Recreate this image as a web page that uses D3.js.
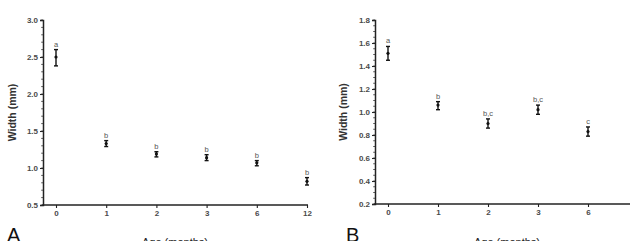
<!DOCTYPE html>
<html>
<head>
<meta charset="utf-8">
<script src="https://cdn.jsdelivr.net/npm/d3@7"></script>
<style>
  body { margin: 0; background: #fff; }
  svg { display: block; font-family: "Liberation Sans", Arial, sans-serif; }
</style>
</head>
<body>
<div id="chart"></div>
<script>
var W = 630, H = 241;

// panel A
var ageA = ['0', '1', '2', '3', '6', '12'];
var meanA = [2.50, 1.33, 1.19, 1.14, 1.07, 0.82];
var lowA = [2.38, 1.29, 1.15, 1.10, 1.03, 0.77];
var highA = [2.60, 1.37, 1.22, 1.18, 1.10, 0.87];
var letterA = ['a', 'b', 'b', 'b', 'b', 'b'];
var yTicksA = [0.5, 1.0, 1.5, 2.0, 2.5, 3.0];

// panel B
var ageB = ['0', '1', '2', '3', '6'];
var meanB = [1.51, 1.06, 0.90, 1.02, 0.83];
var lowB = [1.45, 1.02, 0.86, 0.98, 0.79];
var highB = [1.57, 1.09, 0.94, 1.06, 0.87];
var letterB = ['a', 'b', 'b,c', 'b,c', 'c'];
var yTicksB = [0.2, 0.4, 0.6, 0.8, 1.0, 1.2, 1.4, 1.6, 1.8];

var svg = d3.select('#chart').append('svg')
    .attr('width', W)
    .attr('height', H);

function drawPanel(p) {
    var g = svg.append('g');

    var x = d3.scalePoint()
        .domain(p.ages)
        .range([p.x0, p.x1]);
    var y = d3.scaleLinear()
        .domain(p.yDomain)
        .range([p.yBottom, p.yTop]);

    // y axis, major ticks
    var yAxis = g.append('g')
        .attr('transform', 'translate(' + p.axisX + ',0)')
        .call(d3.axisLeft(y).tickValues(p.yTicks).tickFormat(d3.format('.1f')).tickSize(3).tickPadding(2));
    yAxis.select('.domain').attr('stroke', '#222').attr('stroke-width', 1.5);
    yAxis.selectAll('.tick line').attr('stroke', '#222').attr('stroke-width', 1.1);
    yAxis.selectAll('.tick text')
        .attr('fill', '#4a4a4a')
        .style('font-size', '8px')
        .style('font-weight', 'bold');

    // minor ticks
    var minor = d3.range(p.yDomain[0], p.yDomain[1] + 1e-9, p.minorStep);
    g.append('g').selectAll('line')
        .data(minor)
        .enter().append('line')
        .attr('x1', p.axisX - 1.8)
        .attr('x2', p.axisX)
        .attr('y1', function(d) { return y(d); })
        .attr('y2', function(d) { return y(d); })
        .attr('stroke', '#333')
        .attr('stroke-width', 0.8);

    // x axis
    var xAxis = g.append('g')
        .attr('transform', 'translate(0,' + p.yBottom + ')')
        .call(d3.axisBottom(x).tickSize(3).tickPadding(2));
    xAxis.select('.domain').remove();
    xAxis.selectAll('.tick line').attr('stroke', '#222').attr('stroke-width', 1.1);
    xAxis.selectAll('.tick text')
        .attr('fill', '#4a4a4a')
        .style('font-size', '8px')
        .style('font-weight', 'bold');
    g.append('line')
        .attr('x1', p.axisX - 0.75)
        .attr('x2', p.xEnd)
        .attr('y1', p.yBottom)
        .attr('y2', p.yBottom)
        .attr('stroke', '#222')
        .attr('stroke-width', 1.7);

    var rows = p.ages.map(function(a, i) {
        return {age: a, mean: p.mean[i], low: p.low[i], high: p.high[i], letter: p.letter[i]};
    });

    var pts = g.selectAll('.pt')
        .data(rows)
        .enter().append('g')
        .attr('class', 'pt');

    pts.append('line')
        .attr('x1', function(d) { return x(d.age); })
        .attr('x2', function(d) { return x(d.age); })
        .attr('y1', function(d) { return y(d.low); })
        .attr('y2', function(d) { return y(d.high); })
        .attr('stroke', '#111')
        .attr('stroke-width', 1.4);
    pts.append('line')
        .attr('x1', function(d) { return x(d.age) - 2; })
        .attr('x2', function(d) { return x(d.age) + 2; })
        .attr('y1', function(d) { return y(d.high); })
        .attr('y2', function(d) { return y(d.high); })
        .attr('stroke', '#111')
        .attr('stroke-width', 1.4);
    pts.append('line')
        .attr('x1', function(d) { return x(d.age) - 2; })
        .attr('x2', function(d) { return x(d.age) + 2; })
        .attr('y1', function(d) { return y(d.low); })
        .attr('y2', function(d) { return y(d.low); })
        .attr('stroke', '#111')
        .attr('stroke-width', 1.4);
    pts.append('circle')
        .attr('cx', function(d) { return x(d.age); })
        .attr('cy', function(d) { return y(d.mean); })
        .attr('r', 1.6)
        .attr('fill', '#111');
    pts.append('text')
        .attr('x', function(d) { return x(d.age); })
        .attr('y', function(d) { return y(d.high) - 3; })
        .attr('text-anchor', 'middle')
        .attr('fill', '#555')
        .style('font-size', '7.5px')
        .text(function(d) { return d.letter; });

    // axis titles
    g.append('text')
        .attr('transform', 'translate(' + p.yLabelX + ',' + ((p.yTop + p.yBottom) / 2) + ') rotate(-90)')
        .attr('text-anchor', 'middle')
        .attr('fill', '#333')
        .style('font-size', '10.5px')
        .style('font-weight', 'bold')
        .text('Width (mm)');
    g.append('text')
        .attr('x', p.xLabelX)
        .attr('y', 246)
        .attr('text-anchor', 'middle')
        .attr('fill', '#222')
        .style('font-size', '11px')
        .text('Age (months)');
    g.append('text')
        .attr('x', p.letterX)
        .attr('y', 242)
        .attr('fill', '#111')
        .style('font-size', '20px')
        .text(p.panel);
}

drawPanel({
    panel: 'A', ages: ageA, mean: meanA, low: lowA, high: highA, letter: letterA,
    yDomain: [0.5, 3.0], yTicks: yTicksA, minorStep: 0.1,
    x0: 56, x1: 307, xEnd: 308, axisX: 43, yTop: 20, yBottom: 205,
    yLabelX: 16, xLabelX: 175, letterX: 7
});

drawPanel({
    panel: 'B', ages: ageB, mean: meanB, low: lowB, high: highB, letter: letterB,
    yDomain: [0.2, 1.8], yTicks: yTicksB, minorStep: 0.05,
    x0: 388, x1: 588, xEnd: 640, axisX: 375, yTop: 20, yBottom: 204,
    yLabelX: 347, xLabelX: 507, letterX: 346
});
</script>
</body>
</html>
